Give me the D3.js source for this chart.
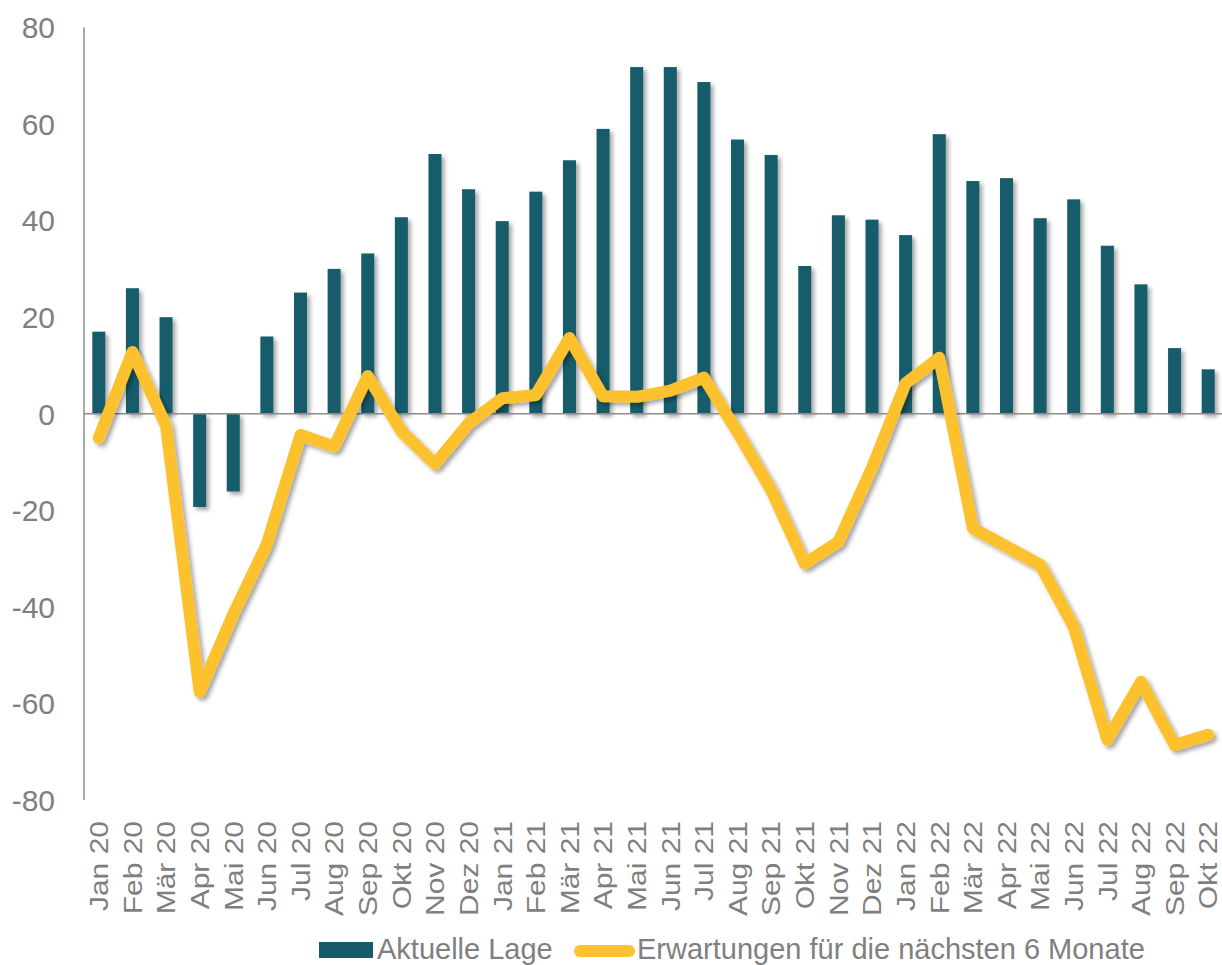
<!DOCTYPE html>
<html>
<head>
<meta charset="utf-8">
<script src="https://cdn.jsdelivr.net/npm/d3@7"></script>
<style>
  body { margin: 0; background: #fff; }
  text { font-family: "Liberation Sans", Arial, sans-serif; fill: #7f7f7f; }
</style>
</head>
<body>
<div id="chart"></div>
<script>
// Kategorien (Monate)
var months = ["Jan 20", "Feb 20", "Mär 20", "Apr 20", "Mai 20", "Jun 20", "Jul 20", "Aug 20", "Sep 20", "Okt 20", "Nov 20", "Dez 20",
    "Jan 21", "Feb 21", "Mär 21", "Apr 21", "Mai 21", "Jun 21", "Jul 21", "Aug 21", "Sep 21", "Okt 21", "Nov 21", "Dez 21",
    "Jan 22", "Feb 22", "Mär 22", "Apr 22", "Mai 22", "Jun 22", "Jul 22", "Aug 22", "Sep 22", "Okt 22"];

// Aktuelle Lage (Balken)
var aktuelleLage = [17, 26, 20, -19.3, -16.1, 16, 25.1, 30, 33.2, 40.7, 53.8, 46.5,
    39.9, 46, 52.5, 59, 71.8, 71.8, 68.7, 56.8, 53.6, 30.6, 41.1, 40.2,
    37, 57.9, 48.2, 48.8, 40.5, 44.4, 34.8, 26.8, 13.6, 9.2];

// Erwartungen für die nächsten 6 Monate (Linie)
var erwartungen = [-5, 12.8, -2.5, -57.6, -41.5, -27, -4.4, -6.8, 7.8, -3.6, -10.4, -2,
    3.2, 3.9, 15.7, 3.6, 3.5, 4.8, 7.5, -3.8, -15.8, -31, -26.5, -11.2,
    6.3, 11.6, -23.7, -27.5, -31.3, -44.1, -67.5, -55.5, -68.6, -66.5];

var yTicks = [-80, -60, -40, -20, 0, 20, 40, 60, 80];

var seriesNames = ["Aktuelle Lage", "Erwartungen für die nächsten 6 Monate"];

// Chart Params
var svgWidth = 1222;
var svgHeight = 965;
var teal = "#175b6a";
var yellow = "#fec12f";
var axisColor = "#8c8c8c";

var svg = d3.select("#chart")
    .append("svg")
    .attr("width", svgWidth)
    .attr("height", svgHeight);

// Schatten wie im Original
var defs = svg.append("defs");
defs.append("filter")
    .attr("id", "shadow")
    .attr("x", "-20%").attr("y", "-20%")
    .attr("width", "140%").attr("height", "140%")
    .append("feDropShadow")
    .attr("dx", 3)
    .attr("dy", 3)
    .attr("stdDeviation", 2.2)
    .attr("flood-color", "#000")
    .attr("flood-opacity", 0.35);

// scales
var x = d3.scaleBand()
    .domain(months)
    .range([82, 1225])
    .paddingInner(0.613)
    .paddingOuter(0.3065);

var y = d3.scaleLinear()
    .domain([-80, 80])
    .range([800, 27.5]);

var xc = d => x(d) + x.bandwidth() / 2;

// y axis labels
svg.append("g")
    .selectAll("text")
    .data(yTicks)
    .join("text")
    .attr("x", 55)
    .attr("y", d => y(d))
    .attr("dy", "0.36em")
    .attr("text-anchor", "end")
    .attr("font-size", 30)
    .text(d => d);

// vertical axis line
svg.append("line")
    .attr("x1", 84).attr("x2", 84)
    .attr("y1", y(80)).attr("y2", y(-80))
    .attr("stroke", axisColor)
    .attr("stroke-width", 1.5);

// bars
svg.append("g")
    .attr("filter", "url(#shadow)")
    .selectAll("rect")
    .data(months)
    .join("rect")
    .attr("x", d => x(d))
    .attr("width", x.bandwidth())
    .attr("y", (d, i) => y(Math.max(0, aktuelleLage[i])))
    .attr("height", (d, i) => Math.abs(y(aktuelleLage[i]) - y(0)))
    .attr("fill", teal);

// zero line
svg.append("line")
    .attr("x1", 84).attr("x2", 1222)
    .attr("y1", y(0)).attr("y2", y(0))
    .attr("stroke", axisColor)
    .attr("stroke-width", 1.5);

// line
var line = d3.line()
    .x((d, i) => xc(months[i]))
    .y(d => y(d));

svg.append("path")
    .datum(erwartungen)
    .attr("d", line)
    .attr("fill", "none")
    .attr("stroke", yellow)
    .attr("stroke-width", 12)
    .attr("stroke-linejoin", "round")
    .attr("stroke-linecap", "round")
    .attr("filter", "url(#shadow)");

// x axis labels (rotated)
svg.append("g")
    .selectAll("text")
    .data(months)
    .join("text")
    .attr("transform", d => `translate(${xc(d)}, 821) rotate(-90) scale(1, 0.86)`)
    .attr("dy", "0.36em")
    .attr("text-anchor", "end")
    .attr("font-size", 30)
    .text(d => d);

// legend
var legend = svg.append("g");
legend.append("rect")
    .attr("x", 319).attr("y", 942)
    .attr("width", 54).attr("height", 16)
    .attr("fill", teal);
legend.append("text")
    .attr("x", 377).attr("y", 959)
    .attr("font-size", 29)
    .text(seriesNames[0]);
legend.append("line")
    .attr("x1", 580).attr("x2", 629)
    .attr("y1", 951).attr("y2", 951)
    .attr("stroke", yellow)
    .attr("stroke-width", 12)
    .attr("stroke-linecap", "round");
legend.append("text")
    .attr("x", 637).attr("y", 959)
    .attr("font-size", 29)
    .text(seriesNames[1]);
</script>
</body>
</html>
